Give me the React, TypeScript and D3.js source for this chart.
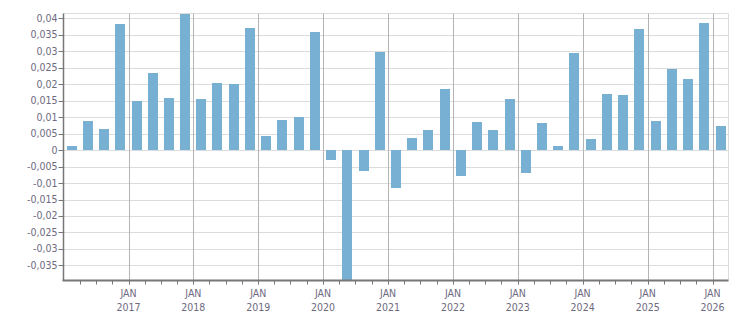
import React from 'react';
import * as d3 from 'd3';

// quarter starts (YYYY-MM)
const quarters = [
  '2016-01', '2016-04', '2016-07', '2016-10',
  '2017-01', '2017-04', '2017-07', '2017-10',
  '2018-01', '2018-04', '2018-07', '2018-10',
  '2019-01', '2019-04', '2019-07', '2019-10',
  '2020-01', '2020-04', '2020-07', '2020-10',
  '2021-01', '2021-04', '2021-07', '2021-10',
  '2022-01', '2022-04', '2022-07', '2022-10',
  '2023-01', '2023-04', '2023-07', '2023-10',
  '2024-01', '2024-04', '2024-07', '2024-10',
  '2025-01', '2025-04', '2025-07', '2025-10',
  '2026-01'
];

const values = [
  0.0012, 0.0088, 0.0064, 0.0384,
  0.0149, 0.0235, 0.0158, 0.0414,
  0.0155, 0.0204, 0.0201, 0.0372,
  0.0043, 0.0091, 0.0101, 0.0359,
  -0.003, -0.046, -0.0064, 0.0298,
  -0.0116, 0.0037, 0.0061, 0.0186,
  -0.0078, 0.0085, 0.0061, 0.0155,
  -0.007, 0.0082, 0.0012, 0.0295,
  0.0034, 0.0171, 0.0168, 0.0369,
  0.0088, 0.0247, 0.0216, 0.0387,
  0.0073
];

const yTicks = [-0.035, -0.03, -0.025, -0.02, -0.015, -0.01, -0.005, 0, 0.005, 0.01, 0.015, 0.02, 0.025, 0.03, 0.035, 0.04];
const yearTicks = ['2017', '2018', '2019', '2020', '2021', '2022', '2023', '2024', '2025', '2026'];

const width = 751;
const height = 313;
const margin = { top: 13.5, right: 22.5, bottom: 32.5, left: 63.5 };
const font = "'DejaVu Sans Condensed', 'Liberation Sans', sans-serif";
const textColor = '#6e6a80';

const App: React.FC = () => {
  const svgRef = React.useRef<SVGSVGElement>(null);

  React.useEffect(() => {
    if (!svgRef.current) return;
    const svg = d3.select(svgRef.current);
    svg.selectAll('*').remove();

    const parse = d3.timeParse('%Y-%m');
    const x0 = margin.left;
    const x1 = width - margin.right;
    const yTop = margin.top;
    const yBot = height - margin.bottom;

    const x = d3.scaleTime()
      .domain([new Date(2016, 0, 1), new Date(2026, 3, 1)])
      .range([x0, x1]);
    const y = d3.scaleLinear()
      .domain([-0.0396, 0.0415])
      .range([yBot, yTop]);

    svg.append('defs').append('clipPath').attr('id', 'plot')
      .append('rect').attr('x', x0).attr('y', yTop).attr('width', x1 - x0).attr('height', yBot - yTop);

    // horizontal grid
    svg.append('g').selectAll('line').data(yTicks).enter().append('line')
      .attr('x1', x0).attr('x2', x1)
      .attr('y1', d => Math.round(y(d)) + 0.5).attr('y2', d => Math.round(y(d)) + 0.5)
      .attr('stroke', '#dcdcdc');

    // frame top/right
    svg.append('line').attr('x1', x0).attr('x2', x1).attr('y1', yTop).attr('y2', yTop).attr('stroke', '#dcdcdc');
    svg.append('line').attr('x1', x1).attr('x2', x1).attr('y1', yTop).attr('y2', yBot).attr('stroke', '#dcdcdc');

    // year grid lines
    const years = yearTicks.map(d => new Date(+d, 0, 1));
    svg.append('g').selectAll('line').data(years).enter().append('line')
      .attr('x1', d => Math.round(x(d)) + 0.5).attr('x2', d => Math.round(x(d)) + 0.5)
      .attr('y1', yTop).attr('y2', yBot + 4)
      .attr('stroke', '#b4b4b4');

    // bars
    const dates = quarters.map(q => parse(q) as Date);
    const barW = 10;
    svg.append('g').attr('clip-path', 'url(#plot)')
      .selectAll('rect').data(values).enter().append('rect')
      .attr('x', (d, i) => {
        const s = dates[i];
        const e = d3.timeMonth.offset(s, 3);
        return Math.round((x(s) + x(e)) / 2 - barW / 2);
      })
      .attr('y', d => Math.round(y(Math.max(0, d))))
      .attr('width', barW)
      .attr('height', d => Math.abs(Math.round(y(d)) - Math.round(y(0))))
      .attr('fill', '#78b0d3');

    // left axis
    const left = svg.append('g');
    left.append('line').attr('x1', x0).attr('x2', x0).attr('y1', yTop).attr('y2', yBot)
      .attr('stroke', '#777').attr('stroke-width', 1.5);
    left.selectAll('.tk').data(yTicks).enter().append('line')
      .attr('x1', x0 - 5).attr('x2', x0)
      .attr('y1', d => Math.round(y(d)) + 0.5).attr('y2', d => Math.round(y(d)) + 0.5)
      .attr('stroke', '#777');
    left.selectAll('text').data(yTicks).enter().append('text')
      .attr('x', x0 - 6).attr('y', d => y(d) + 3.5)
      .attr('text-anchor', 'end')
      .attr('font-family', font).attr('font-size', 10.5).attr('fill', textColor)
      .text(d => d3.format('')(d).replace('.', ',').replace('−', '-'));

    // bottom axis
    const bottom = svg.append('g');
    const qTicks = d3.timeMonth.every(3)!.range(new Date(2016, 3, 1), new Date(2026, 3, 1));
    bottom.selectAll('line').data(qTicks).enter().append('line')
      .attr('x1', d => Math.round(x(d)) + 0.5).attr('x2', d => Math.round(x(d)) + 0.5)
      .attr('y1', yBot).attr('y2', yBot + 4)
      .attr('stroke', '#777');
    bottom.append('line').attr('x1', x0 - 1).attr('x2', x1).attr('y1', yBot).attr('y2', yBot)
      .attr('stroke', '#777').attr('stroke-width', 2);
    const lbl = bottom.selectAll('g.lbl').data(years).enter().append('g');
    lbl.append('text')
      .attr('x', d => x(d)).attr('y', yBot + 16)
      .attr('text-anchor', 'middle')
      .attr('font-family', font).attr('font-size', 10.5).attr('fill', textColor)
      .text('JAN');
    lbl.append('text')
      .attr('x', d => x(d)).attr('y', yBot + 30)
      .attr('text-anchor', 'middle')
      .attr('font-family', font).attr('font-size', 10.5).attr('fill', textColor)
      .text((d, i) => yearTicks[i]);
  }, []);

  return (
    <svg
      ref={svgRef}
      width={width}
      height={height}
      style={{ position: 'absolute', left: 0, top: 0, background: '#fff' }}
    />
  );
};

export default App;
